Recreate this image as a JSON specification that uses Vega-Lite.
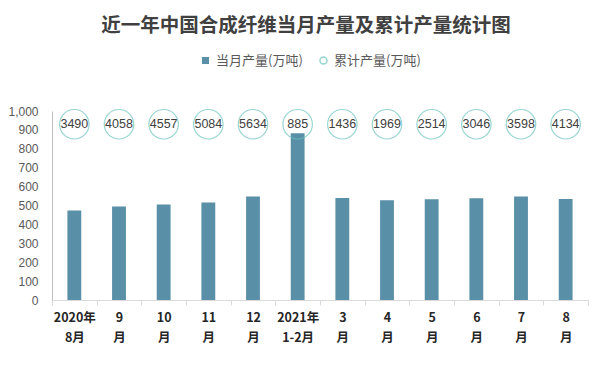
{
  "$schema": "https://vega.github.io/schema/vega-lite/v6.json",
  "width": 536,
  "height": 189,
  "autosize": {"type": "none"},
  "padding": {"left": 52, "top": 111, "right": 23, "bottom": 68},
  "background": "white",
  "title": {
    "text": "近一年中国合成纤维当月产量及累计产量统计图",
    "font": "Noto Sans CJK SC",
    "fontSize": 19.5,
    "fontWeight": "bold",
    "color": "#404040",
    "anchor": "middle",
    "dx": -14,
    "offset": 18
  },
  "data": {
    "values": [
      {"month": "2020年\n8月", "monthly": 474, "cumulative": 3490},
      {"month": "9\n月", "monthly": 495, "cumulative": 4058},
      {"month": "10\n月", "monthly": 505, "cumulative": 4557},
      {"month": "11\n月", "monthly": 516, "cumulative": 5084},
      {"month": "12\n月", "monthly": 547, "cumulative": 5634},
      {"month": "2021年\n1-2月", "monthly": 882, "cumulative": 885},
      {"month": "3\n月", "monthly": 540, "cumulative": 1436},
      {"month": "4\n月", "monthly": 528, "cumulative": 1969},
      {"month": "5\n月", "monthly": 533, "cumulative": 2514},
      {"month": "6\n月", "monthly": 538, "cumulative": 3046},
      {"month": "7\n月", "monthly": 548, "cumulative": 3598},
      {"month": "8\n月", "monthly": 534, "cumulative": 4134}
    ]
  },
  "encoding": {
    "x": {
      "field": "month",
      "type": "nominal",
      "sort": null,
      "scale": {"paddingInner": 0, "paddingOuter": 0},
      "axis": {
        "title": null,
        "labelAngle": 0,
        "labelExpr": "split(datum.label, '\\n')",
        "labelFont": "Noto Sans CJK SC",
        "labelFontWeight": "bold",
        "labelFontSize": 12.5,
        "labelColor": "#262626",
        "labelLineHeight": 20,
        "labelPadding": 6,
        "domainColor": "#D9D9D9",
        "tickColor": "#D9D9D9",
        "tickSize": 5,
        "tickBand": "extent"
      }
    }
  },
  "layer": [
    {
      "mark": {"type": "bar", "width": {"band": 0.31}},
      "encoding": {
        "y": {
          "field": "monthly",
          "type": "quantitative",
          "scale": {"domain": [0, 1000]},
          "axis": {
            "title": null,
            "values": [0, 100, 200, 300, 400, 500, 600, 700, 800, 900, 1000],
            "format": ",.0f",
            "labelOverlap": false,
            "grid": false,
            "ticks": false,
            "tickSize": 0,
            "labelPadding": 14,
            "labelFont": "Liberation Sans",
            "labelFontSize": 12,
            "labelColor": "#595959",
            "domainColor": "#BFBFBF"
          }
        },
        "fill": {
          "datum": "当月产量(万吨)",
          "scale": {"range": ["#5A8FA8"]},
          "legend": {
            "title": null,
            "orient": "none",
            "legendX": 147,
            "legendY": -57,
            "symbolType": "square",
            "symbolSize": 50,
            "labelFont": "Noto Sans CJK SC",
            "labelFontSize": 13,
            "labelColor": "#595959"
          }
        }
      }
    },
    {
      "mark": {"type": "point", "shape": "circle", "filled": false, "size": 870, "strokeWidth": 1.2},
      "encoding": {
        "y": {
          "datum": 930,
          "type": "quantitative",
          "scale": {"domain": [0, 1000]},
          "axis": {
            "title": null,
            "values": [0, 100, 200, 300, 400, 500, 600, 700, 800, 900, 1000],
            "format": ",.0f",
            "labelOverlap": false,
            "grid": false,
            "ticks": false,
            "tickSize": 0,
            "labelPadding": 14,
            "labelFont": "Liberation Sans",
            "labelFontSize": 12,
            "labelColor": "#595959",
            "domainColor": "#BFBFBF"
          }
        },
        "stroke": {
          "datum": "累计产量(万吨)",
          "scale": {"range": ["#6CC5BE"]},
          "legend": {
            "title": null,
            "orient": "none",
            "legendX": 265,
            "legendY": -57,
            "symbolType": "circle",
            "symbolSize": 50,
            "symbolStrokeWidth": 1.5,
            "labelFont": "Noto Sans CJK SC",
            "labelFontSize": 13,
            "labelColor": "#595959"
          }
        }
      }
    },
    {
      "mark": {"type": "text", "font": "Liberation Sans", "fontSize": 12.5, "color": "#404040"},
      "encoding": {
        "y": {
          "datum": 930,
          "type": "quantitative",
          "scale": {"domain": [0, 1000]},
          "axis": {
            "title": null,
            "values": [0, 100, 200, 300, 400, 500, 600, 700, 800, 900, 1000],
            "format": ",.0f",
            "labelOverlap": false,
            "grid": false,
            "ticks": false,
            "tickSize": 0,
            "labelPadding": 14,
            "labelFont": "Liberation Sans",
            "labelFontSize": 12,
            "labelColor": "#595959",
            "domainColor": "#BFBFBF"
          }
        },
        "text": {"field": "cumulative", "type": "quantitative", "format": "d"}
      }
    }
  ],
  "config": {
    "view": {"stroke": null}
  }
}
